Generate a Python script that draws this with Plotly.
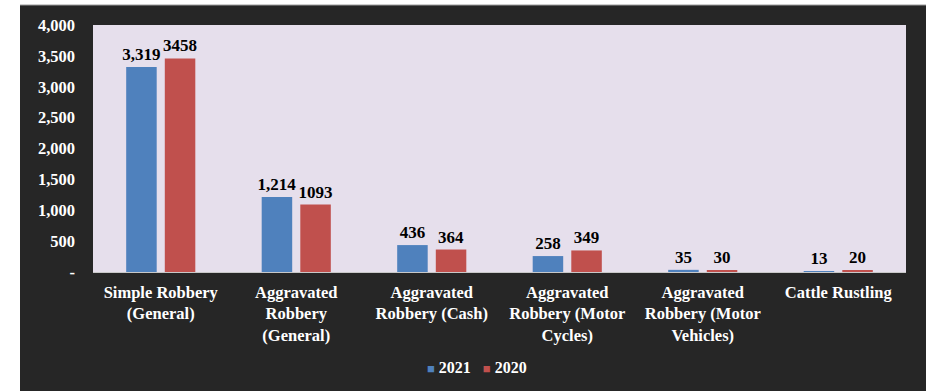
import plotly.graph_objects as go

# Robbery categories and counts per year
categories = [
    "Simple Robbery<br>(General)",
    "Aggravated<br>Robbery<br>(General)",
    "Aggravated<br>Robbery (Cash)",
    "Aggravated<br>Robbery (Motor<br>Cycles)",
    "Aggravated<br>Robbery (Motor<br>Vehicles)",
    "Cattle Rustling",
]
years = ["2021", "2020"]
values_2021 = [3319, 1214, 436, 258, 35, 13]
values_2020 = [3458, 1093, 364, 349, 30, 20]

y_tick_values = [0, 500, 1000, 1500, 2000, 2500, 3000, 3500, 4000]
y_tick_labels = ["-", "500", "1,000", "1,500", "2,000", "2,500", "3,000", "3,500", "4,000"]

SERIF = "Liberation Serif"
BLUE = "#4F81BD"
RED = "#C0504D"
DARK = "#262626"

fig = go.Figure()
fig.add_trace(go.Bar(
    x=categories, y=values_2021, name=years[0],
    marker=dict(color=BLUE, line=dict(width=0)),
    text=[f"<b>{v:,}</b>" for v in values_2021],
    textposition="outside", cliponaxis=False, constraintext="none",
    textfont=dict(family=SERIF, size=17, color="black"),
))
fig.add_trace(go.Bar(
    x=categories, y=values_2020, name=years[1],
    marker=dict(color=RED, line=dict(width=0)),
    text=[f"<b>{v}</b>" for v in values_2020],
    textposition="outside", cliponaxis=False, constraintext="none",
    textfont=dict(family=SERIF, size=17, color="black"),
))

W, H = 928, 391
L, R, T, B = 93, 22, 25, 119
pw, ph = W - L - R, H - T - B


def px_x(p):
    return (p - L) / pw


def px_y(p):
    return (H - B - p) / ph


# white margin strips around the dark chart frame
shapes = [
    dict(type="rect", xref="paper", yref="paper", x0=px_x(-10), x1=px_x(W + 10),
         y0=px_y(5), y1=px_y(-10), fillcolor="white", line=dict(width=0), layer="above"),
    dict(type="rect", xref="paper", yref="paper", x0=px_x(-10), x1=px_x(20),
         y0=px_y(H + 10), y1=px_y(-10), fillcolor="white", line=dict(width=0), layer="above"),
    dict(type="rect", xref="paper", yref="paper", x0=px_x(926), x1=px_x(W + 10),
         y0=px_y(H + 10), y1=px_y(-10), fillcolor="white", line=dict(width=0), layer="above"),
    dict(type="line", xref="paper", yref="paper", x0=px_x(20), x1=px_x(926),
         y0=px_y(5), y1=px_y(5), line=dict(color="#9a9a9a", width=1), layer="above"),
]

# compact legend: coloured squares sitting right against the year labels
legend_text = "&nbsp;&nbsp;&nbsp;".join(
    f"<span style='color:{c}; font-size:13px'>■</span>&nbsp;<b>{y}</b>"
    for c, y in zip([BLUE, RED], years)
)
annotations = [
    dict(xref="paper", yref="paper", x=px_x(477), y=px_y(367), xanchor="center",
         yanchor="middle", showarrow=False, text=legend_text,
         font=dict(family=SERIF, size=16, color="white")),
]

fig.update_layout(
    width=W, height=H,
    margin=dict(l=L, r=R, t=T, b=B, pad=0),
    paper_bgcolor=DARK,
    plot_bgcolor="#E6DFEC",
    barmode="group",
    bargap=0.43,
    bargroupgap=0.21,
    showlegend=False,
    xaxis=dict(
        showgrid=False, showline=True, linecolor="#c8c8c8", linewidth=1,
        ticks="", tickfont=dict(family=SERIF, size=16.5, color="white"),
        ticklabelstandoff=5,
        tickvals=categories, ticktext=[f"<b>{c}</b>" for c in categories],
    ),
    yaxis=dict(
        range=[0, 4000], tickvals=y_tick_values,
        ticktext=[f"<b>{t}</b>" for t in y_tick_labels],
        showgrid=False, zeroline=False, showline=False, ticks="",
        tickfont=dict(family=SERIF, size=16.5, color="white"),
        ticklabelstandoff=17,
    ),
    shapes=shapes,
    annotations=annotations,
)

fig.write_html("out.html")
